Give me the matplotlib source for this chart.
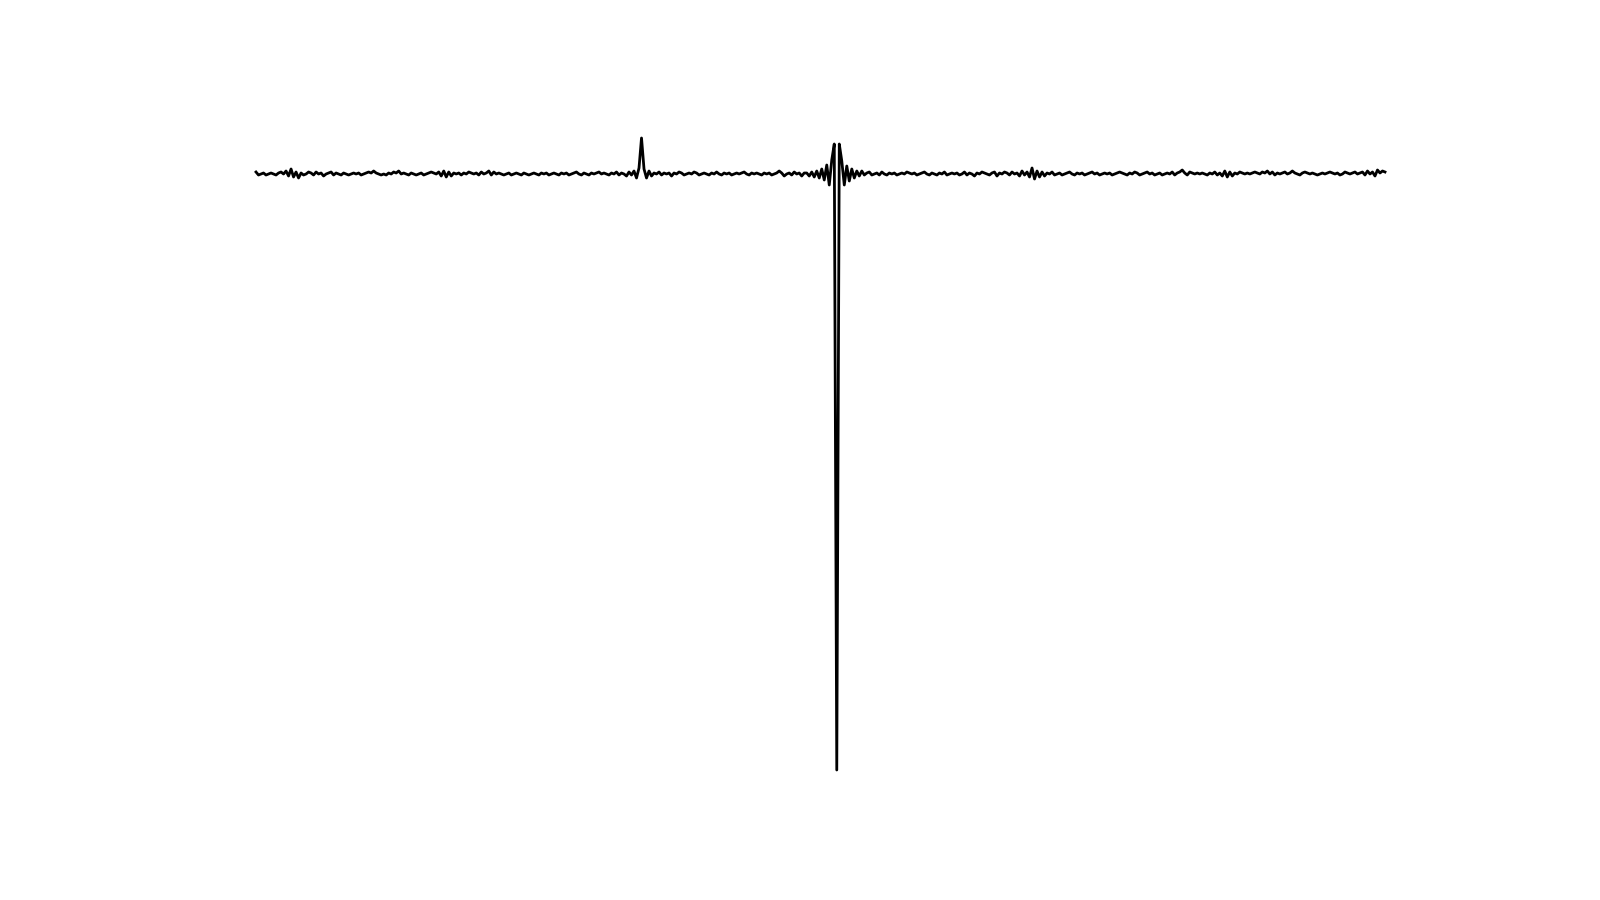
import numpy as np
import matplotlib.pyplot as plt

# intensity, one value per ~2.5 px step (baseline = 0)
noise_a = [2, -1, 0, 1, -1, 0, 1, 0, -1, 1, 2, 0, 3, -2, 5, -3, 2, -4, 1, -1,
           0, 2, 1, -1, 2, 0, 1, -2, 0, 1, 2, -1, 1, 0, -1, 1, 0, -1, 0, 1,
           0, 1, -1, 0, 1, 2, 1, 3, 1, 0, -1, 0, -1, 1, 0, 2, 1, 3, 0, 1,
           0, -1, 1, 0, -1, 0, 1, -1, 0, 1, 2, 1, 0, 2, -2, 3, -3, 2, -2, 1,
           0, 1, -1, 1, 0, 2, 1, 0, 1, -1, 2, 0, 1, 3, -1, 2, 0, 1, 0, -1,
           0, 1, -1, 0, 1, 0, -1, 1, 0, -1, 0, 1, 0, -1, 1, 0, 1, -1, 0, 1,
           0, -1, 1, 0, 1, -1, 0, 1, 2, 0, -1, 1, 0, -1, 1, 0, 1, 2, 0, 1]
peak_small = [0, -1, 1, 0, 2, -1, 1, 0, -2, 2, -1, 3, -4, 6, 36, 5, -4, 3, -2, 1]
noise_b = [0, 2, -1, 1, 0, 1, -2, 1, 0, 2, 1, -1, 0, 1, 0, 2, 1, -1, 0, 1,
           0, -1, 1, 0, 2, 0, -1, 1, 0, 1, -1, 0, 1, 0, 1, 2, 0, -1, 1, 0,
           1, 0, -1, 1, 0, 1, -1, 0, 1, 3, 1, -2, 0, 1, -1, 2, 0, 1, -2, 1]
peak_center = [1, -2, 2, -3, 3, -4, 5, -6, 9, -11, 14, 30, -596, 30, 13, -11, 8, -7, 5, -4]
noise_c = [3, -2, 3, -1, 1, 2, -1, 0, 1, -1, 2, 0, -1, 1, 0, 1, -1, 0, 1, 0,
           2, 1, 0, 1, -1, 0, 1, 2, 0, -1, 1, 0, -1, 1, 0, 2, -1, 0, 1, 0,
           1, -1, 0, 2, -1, 1, 0, -2, 1, 0, 2, 1, 0, -1, 1, 2, -2, 1, 0, 2,
           1, -1, 2, 0, 1, -2, 3, -1, 2, -3, 6, -5, 3, -3, 2, -2, 1, 0, 2, -1,
           0, 1, -1, 0, 1, 2, 0, -1, 1, 0, 1, -1, 0, 1, 2, 0, 1, -1, 0, 1,
           0, 1, -1, 0, 1, 2, 1, 0, -1, 1, 0, 2, 1, -1, 0, 1, 2, 0, 1, -1,
           0, 1, -1, 0, 1, 0, 2, -1, 1, 2, 4, 1, -1, 2, 1, 0, 1, 0, 1, 0,
           -1, 1, 0, 2, -1, 1, -2, 3, -3, 2, -2, 1, 0, 2, 1, 0, 1, 0, 1, 2,
           1, 0, 2, 1, 3, 0, 2, -1, 1, 0, 1, 2, 0, 1, 3, 1, 0, -1, 1, 2,
           1, 0, 1, 0, -1, 0, 1, 0, 1, 2, 1, 0, 1, -1, 0, 2, 1, 0, 1, 2,
           0, 1, 2, -1, 3, 0, 2, -2, 4, 1, 3, 2]

y = np.array(noise_a + peak_small + noise_b + peak_center + noise_c, dtype=float)
x = np.arange(len(y))

fig = plt.figure(figsize=(16, 9), dpi=100)
ax = fig.add_axes([256/1600, 130/900, (1385-256)/1600, (770-138)/900])
ax.plot(x, y, color='black', lw=2.0, clip_on=False)
ax.set_xlim(0, len(y) - 1)
ax.set_ylim(y.min(), y.max())
ax.axis('off')

fig.savefig('out.png', dpi=100, facecolor='white')
